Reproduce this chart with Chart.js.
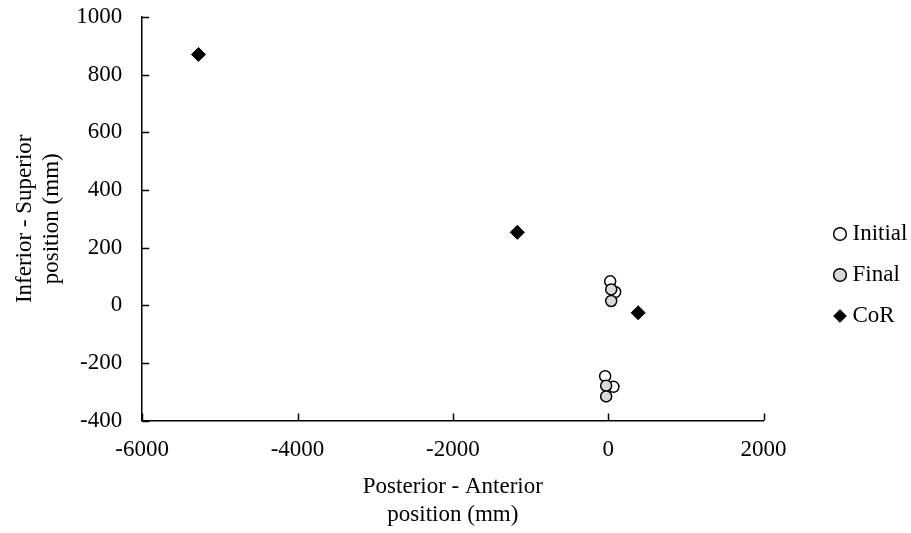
<!DOCTYPE html>
<html>
<head>
<meta charset="utf-8">
<script src="https://cdn.jsdelivr.net/npm/chart.js@4.4.1/dist/chart.umd.min.js"></script>
<style>
html,body{margin:0;padding:0;background:#fff}
#wrap{width:911px;height:533px}
</style>
</head>
<body>
<div id="wrap"><canvas id="chart" width="911" height="533"></canvas></div>
<script>
// positions in mm
const initialX=[26,90,-39,68]
const initialY=[83,46,-246,-283]
const finalX=[39,39,-26,-26]
const finalY=[55,15,-279,-316]
const corX=[-5276,-1170,386]
const corY=[870,253,-26]

const xTicks=[-6000,-4000,-2000,0,2000]
const yTicks=[-400,-200,0,200,400,600,800,1000]

const pts=(xs,ys)=>xs.map((x,i)=>({x:x,y:ys[i]}))

const family="'Liberation Serif','Times New Roman',serif"
const font={family:family,size:23}

// short tick marks drawn inward from the axis lines
const innerTicks={
id:"innerTicks",
beforeDatasetsDraw(chart){
const ctx=chart.ctx
const xs=chart.scales.x, ys=chart.scales.y
const a=chart.chartArea
ctx.save()
ctx.strokeStyle="#000"
ctx.lineWidth=1.5
ctx.beginPath()
xTicks.forEach(v=>{
const p=Math.round(xs.getPixelForValue(v))+0.5
ctx.moveTo(p,a.bottom);ctx.lineTo(p,a.bottom-7)
})
yTicks.forEach(v=>{
const p=Math.round(ys.getPixelForValue(v))+0.5
ctx.moveTo(a.left,p);ctx.lineTo(a.left+7,p)
})
ctx.stroke()
ctx.restore()
}
}

// legend box: wide enough to leave a gap after the plot, items placed right of it
const legendPlace={
id:"legendPlace",
beforeLayout(chart){
const lg=chart.legend
if(lg && !lg._patched){
const fit=lg.fit.bind(lg)
lg.fit=function(){fit();this.width=147.5}
lg._patched=true
}
},
afterLayout(chart){
const lg=chart.legend
const w=lg.right-lg.left, h=lg.bottom-lg.top
lg.left=821;lg.right=lg.left+w
lg.top=204.5;lg.bottom=lg.top+h
}
}

new Chart(document.getElementById("chart"),{
type:"scatter",
data:{datasets:[
{label:"Initial",data:pts(initialX,initialY),pointStyle:"circle",pointRadius:5.5,pointHoverRadius:5.5,
backgroundColor:"#ffffff",borderColor:"#000",borderWidth:1.5,order:3},
{label:"Final",data:pts(finalX,finalY),pointStyle:"circle",pointRadius:5.5,pointHoverRadius:5.5,
backgroundColor:"#d9d9d9",borderColor:"#000",borderWidth:1.5,order:2},
{label:"CoR",data:pts(corX,corY),pointStyle:"rectRot",pointRadius:7,pointHoverRadius:7,
backgroundColor:"#000",borderColor:"#000",borderWidth:1,order:1}
]},
options:{
responsive:false,
animation:false,
layout:{autoPadding:false,padding:{top:17,right:0,bottom:4.6,left:0}},
plugins:{
tooltip:{enabled:false},
legend:{
position:"right",
align:"start",
labels:{usePointStyle:true,boxWidth:2,boxHeight:9,padding:18,color:"#000",font:font,
sort:(a,b)=>a.datasetIndex-b.datasetIndex}
}
},
scales:{
x:{
type:"linear",min:-6000,max:2000,
afterBuildTicks(s){s.ticks=xTicks.map(v=>({value:v}))},
afterFit(s){s.paddingLeft=0;s.paddingRight=0},
grid:{display:false,drawTicks:false},
border:{display:true,color:"#000",width:1.5},
ticks:{color:"#000",font:font,padding:16,callback:v=>String(v)},
title:{display:true,text:["Posterior - Anterior","position (mm)"],color:"#000",font:font,padding:{top:-7,bottom:0}}
},
y:{
type:"linear",min:-400,max:1000,
afterBuildTicks(s){s.ticks=yTicks.map(v=>({value:v}))},
afterFit(s){s.paddingTop=0;s.paddingBottom=0},
grid:{display:false,drawTicks:false},
border:{display:true,color:"#000",width:1.5},
ticks:{color:"#000",font:font,padding:20,callback:v=>String(v)},
title:{display:true,text:["Inferior - Superior","position (mm)"],color:"#000",font:font,padding:{top:11,bottom:-10}}
}
}
},
plugins:[innerTicks,legendPlace]
})
</script>
</body>
</html>
